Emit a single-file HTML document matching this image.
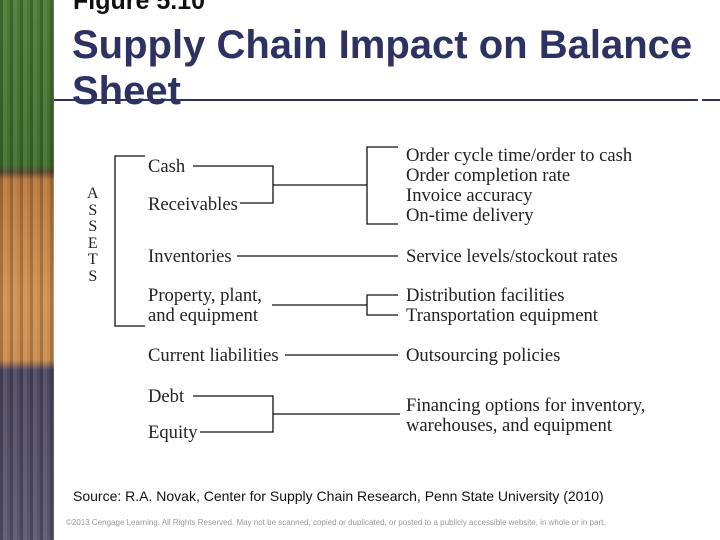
<!DOCTYPE html>
<html><head><meta charset="utf-8"><style>
body{margin:0;width:720px;height:540px;overflow:hidden;background:#fff;position:relative;font-family:"Liberation Sans",sans-serif}
.t{position:absolute;white-space:nowrap}
.s{font-family:"Liberation Serif",serif;font-size:18.6px;color:#222;position:absolute;white-space:nowrap}
</style></head><body>
<div style="position:absolute;left:0;top:0;width:54px;height:540px;background:
repeating-linear-gradient(90deg,rgba(0,0,0,.18) 0 3px,rgba(255,255,255,.08) 3px 7px,rgba(0,0,0,0) 7px 10px),
linear-gradient(180deg,#4a7a35 0,#3f6e2c 165px,#5a4a30 172px,#b9783a 180px,#d08f4d 300px,#c98a4a 360px,#4c4660 370px,#5a5570 540px)"></div>
<div class="t" style="left:73px;top:-13px;font-size:25px;font-weight:bold;color:#111">Figure 5.10</div>
<div class="t" style="left:72px;top:22px;font-size:40px;font-weight:bold;color:#2e3262;line-height:46px">Supply Chain Impact on Balance<br>Sheet</div>
<div style="position:absolute;left:54px;top:99px;width:644px;height:2px;background:#2e3262"></div>
<div style="position:absolute;left:702px;top:99px;width:18px;height:2px;background:#2e3262"></div>

<svg width="720" height="540" style="position:absolute;left:0;top:0" stroke="#111" stroke-width="1.3" fill="none">
<path d="M145 156H115V326H145"/>
<path d="M193 166H273V203H240M273 185H367M398 147H367V224H398"/>
<path d="M237 256H398"/>
<path d="M272 305H367M398 295H367V315H398"/>
<path d="M285 355H398"/>
<path d="M193 396H273V432H200M273 414H400"/>
</svg>
<div class="s" style="left:87px;top:186px;line-height:16.5px;font-size:16px;text-align:center">A<br>S<br>S<br>E<br>T<br>S</div>
<div class="s" style="left:148px;top:156px">Cash</div>
<div class="s" style="left:148px;top:194px">Receivables</div>
<div class="s" style="left:148px;top:246px">Inventories</div>
<div class="s" style="left:148px;top:286px;line-height:20px">Property, plant,<br>and equipment</div>
<div class="s" style="left:148px;top:345px">Current liabilities</div>
<div class="s" style="left:148px;top:386px">Debt</div>
<div class="s" style="left:148px;top:422px">Equity</div>
<div class="s" style="left:406px;top:146px;line-height:20px">Order cycle time/order to cash<br>Order completion rate<br>Invoice accuracy<br>On-time delivery</div>
<div class="s" style="left:406px;top:246px">Service levels/stockout rates</div>
<div class="s" style="left:406px;top:286px;line-height:20px">Distribution facilities<br>Transportation equipment</div>
<div class="s" style="left:406px;top:345px">Outsourcing policies</div>
<div class="s" style="left:406px;top:396px;line-height:20px">Financing options for inventory,<br>warehouses, and equipment</div>
<div class="t" style="left:73px;top:488px;font-size:14px;color:#111">Source: R.A. Novak, Center for Supply Chain  Research, Penn State University (2010)</div>
<div class="t" style="left:66px;top:518px;font-size:8px;color:#999">©2013 Cengage Learning. All Rights Reserved. May not be scanned, copied or duplicated, or posted to a publicly accessible website, in whole or in part.</div>
</body></html>
